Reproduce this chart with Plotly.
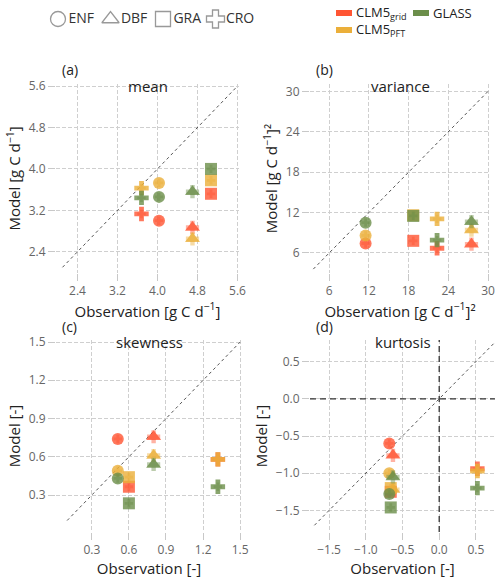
import plotly.graph_objects as go

# ---------------- data ----------------
SITES = ["ENF", "DBF", "GRA", "CRO"]
SYMBOLS = ["circle", "triangle-up", "square", "cross"]
MODELS = ["CLM5grid", "CLM5PFT", "GLASS"]
MODEL_LABELS = ["CLM5<sub>grid</sub>", "CLM5<sub>PFT</sub>", "GLASS"]
COLORS = ["#FF5533", "#EBAF3A", "#6B8E4A"]

mean_obs = [4.03, 4.70, 5.07, 3.68]
mean_grid = [3.00, 2.87, 3.52, 3.13]
mean_pft = [3.73, 2.65, 3.78, 3.63]
mean_glass = [3.46, 3.56, 4.00, 3.44]

var_obs = [11.5, 27.5, 18.7, 22.3]
var_grid = [7.4, 7.3, 7.8, 6.7]
var_pft = [8.6, 9.4, 11.6, 11.06]
var_glass = [10.5, 10.65, 11.5, 7.9]

skew_obs = [0.51, 0.80, 0.60, 1.32]
skew_grid = [0.74, 0.757, 0.365, 0.58]
skew_pft = [0.49, 0.61, 0.44, 0.58]
skew_glass = [0.43, 0.54, 0.235, 0.365]

kurt_obs = [-0.68, -0.63, -0.66, 0.52]
kurt_grid = [-0.60, -0.76, -1.25, -0.94]
kurt_pft = [-1.00, -1.22, -1.20, -0.97]
kurt_glass = [-1.28, -1.05, -1.46, -1.20]

PANELS = [
    dict(key="mean", label="(a)", obs=mean_obs, models=[mean_grid, mean_pft, mean_glass],
         ticks=[2.4, 3.2, 4.0, 4.8, 5.6], ticktext=["2.4", "3.2", "4.0", "4.8", "5.6"],
         xr=[1.97, 5.63], yr=[1.99, 5.64], diag=[2.1, 5.6],
         xt="Observation [g C d<sup>−1</sup>]", yt="Model [g C d<sup>−1</sup>]"),
    dict(key="variance", label="(b)", obs=var_obs, models=[var_grid, var_pft, var_glass],
         ticks=[6, 12, 18, 24, 30], ticktext=["6", "12", "18", "24", "30"],
         xr=[3.1, 30.3], yr=[3.02, 31.1], diag=[3.6, 30.0],
         xt="Observation [g C d<sup>−1</sup>]²", yt="Model [g C d<sup>−1</sup>]²"),
    dict(key="skewness", label="(c)", obs=skew_obs, models=[skew_grid, skew_pft, skew_glass],
         ticks=[0.3, 0.6, 0.9, 1.2, 1.5], ticktext=["0.3", "0.6", "0.9", "1.2", "1.5"],
         xr=[0.01, 1.515], yr=[0.01, 1.516], diag=[0.1, 1.5],
         xt="Observation [-]", yt="Model [-]"),
    dict(key="kurtosis", label="(d)", obs=kurt_obs, models=[kurt_grid, kurt_pft, kurt_glass],
         ticks=[-1.5, -1.0, -0.5, 0.0, 0.5], ticktext=["−1.5", "−1.0", "−0.5", "0.0", "0.5"],
         xr=[-1.76, 0.76], yr=[-1.79, 0.79], diag=[-1.7, 0.75],
         xt="Observation [-]", yt="Model [-]"),
]

W, H = 500, 578
# pixel boxes of the four plot areas (left, right, top, bottom)
BOXES = [(56, 239, 84, 273), (310, 490, 84, 273), (56, 242, 340, 532), (310, 495, 340, 532)]

FONT = "Open Sans"
fig = go.Figure()

for i, (p, box) in enumerate(zip(PANELS, BOXES)):
    n = "" if i == 0 else str(i + 1)
    xa, ya = "x" + n, "y" + n
    # diagonal 1:1
    fig.add_trace(go.Scatter(x=p["diag"], y=p["diag"], mode="lines", xaxis=xa, yaxis=ya,
                             line=dict(color="#555555", width=1, dash="3px,3px"),
                             showlegend=False, hoverinfo="skip"))
    for m, (vals, col) in enumerate(zip(p["models"], COLORS)):
        for s, sym in enumerate(SYMBOLS):
            fig.add_trace(go.Scatter(
                x=[p["obs"][s]], y=[vals[s]], mode="markers", xaxis=xa, yaxis=ya,
                marker=dict(symbol=sym, size=13 if sym == "triangle-up" else 12, color=col,
                            opacity=0.8, line=dict(width=0)),
                showlegend=False, name=MODELS[m] + " " + SITES[s]))
            fig.add_trace(go.Scatter(
                x=[p["obs"][s]], y=[vals[s]], mode="markers", xaxis=xa, yaxis=ya,
                marker=dict(symbol="cross", size=11 if sym == "triangle-up" else 7, color=col,
                            opacity=0.45, line=dict(width=0)),
                showlegend=False, hoverinfo="skip"))

    l, r, t, b = box
    axcommon = dict(showline=False, zeroline=False, showgrid=True, gridcolor="#cfcfcf",
                    griddash="4px,2px", gridwidth=1, ticks="outside", tickcolor="#c8c8c8",
                    ticklen=7, tickfont=dict(size=12, color="#666666", family=FONT),
                    tickvals=p["ticks"], ticktext=p["ticktext"], automargin=False)
    fig.layout["xaxis" + n] = dict(axcommon, domain=[l / W, r / W], range=p["xr"], anchor=ya,
                                   title=dict(text=p["xt"], font=dict(size=15, color="#222222", family=FONT),
                                              standoff=4))
    fig.layout["yaxis" + n] = dict(axcommon, domain=[(H - b) / H, (H - t) / H], range=p["yr"], anchor=xa,
                                   title=dict(text=p["yt"], font=dict(size=15, color="#222222", family=FONT),
                                              standoff=4))
    # panel title
    fig.add_annotation(text=p["key"], xref="paper", yref="paper", x=(l + r) / 2 / W,
                       y=(H - t - 2) / H, xanchor="center", yanchor="middle", showarrow=False,
                       font=dict(size=15, color="#222222", family=FONT))
    # panel label
    fig.add_annotation(text=p["label"], xref="paper", yref="paper", x=(l + 4) / W,
                       y=(H - (t - 14)) / H, xanchor="left", yanchor="middle", showarrow=False,
                       font=dict(size=14, color="#222222", family=FONT))

# zero lines in kurtosis panel
fig.add_shape(type="line", xref="x4", yref="y4 domain", x0=0, x1=0, y0=0, y1=1,
              line=dict(color="#333333", width=1.3, dash="6px,4px"))
fig.add_shape(type="line", xref="x4 domain", yref="y4", x0=0, x1=1, y0=0, y1=0,
              line=dict(color="#333333", width=1.3, dash="6px,4px"))

# shape legend drawn on a hidden full-width helper axis (one slot per site)
SLOT = 52.5   # px per legend slot
X0 = 58       # px of first legend symbol
fig.add_trace(go.Scatter(x=list(range(len(SITES))), y=[0] * len(SITES), mode="markers+text",
                         xaxis="x5", yaxis="y5", text=SITES, textposition="middle right",
                         textfont=dict(size=14, color="#333333", family=FONT),
                         marker=dict(symbol=[s + "-open" for s in SYMBOLS], size=15, color="#999999",
                                     line=dict(width=1.3, color="#999999")),
                         showlegend=False, hoverinfo="skip", cliponaxis=False))
fig.layout["xaxis5"] = dict(domain=[0, 1], range=[-X0 / SLOT, (W - X0) / SLOT], visible=False,
                            anchor="y5", fixedrange=True)
fig.layout["yaxis5"] = dict(domain=[(H - 29) / H, (H - 9) / H], range=[-1, 1], visible=False,
                            anchor="x5", fixedrange=True)

# colour legend
legpos = [(336, 13), (336, 30), (413, 13)]
for lab, col, (lx, ly) in zip(MODEL_LABELS, COLORS, legpos):
    fig.add_shape(type="rect", xref="paper", yref="paper", x0=lx / W, x1=(lx + 16) / W,
                  y0=(H - ly - 3) / H, y1=(H - ly + 3) / H, fillcolor=col, line=dict(width=0))
    fig.add_annotation(text=lab, xref="paper", yref="paper", x=(lx + 18) / W, y=(H - ly) / H,
                       xanchor="left", yanchor="middle", showarrow=False,
                       font=dict(size=13, color="#222222", family=FONT))

fig.update_layout(width=W, height=H, margin=dict(l=0, r=0, t=0, b=0, autoexpand=False),
                  plot_bgcolor="white", paper_bgcolor="white", showlegend=False,
                  font=dict(family=FONT))

fig.write_html("out.html", config={"displayModeBar": False},
               post_script="document.body.style.margin='0px';"
                           "document.documentElement.style.overflow='hidden';")
